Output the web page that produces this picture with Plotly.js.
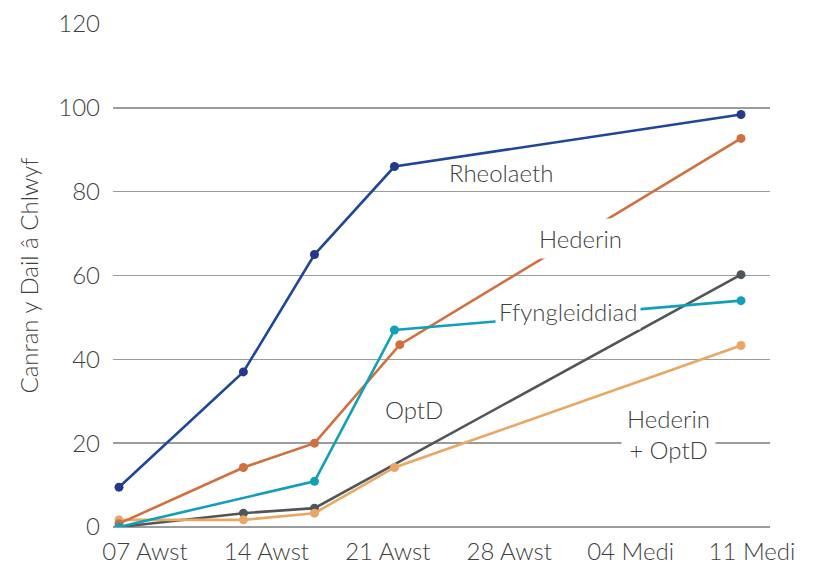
<!DOCTYPE html>
<html>
<head>
<meta charset="utf-8">
<script src="https://cdn.plot.ly/plotly-3.0.1.min.js"></script>
<style>html,body{margin:0;padding:0;background:#fff;}#chart{width:814px;height:566px;}</style>
</head>
<body>
<div id="chart"></div>
<script>
// Days after 07 Awst
const tickDays = [0, 7, 14, 21, 28, 35];
const tickLabels = ['07 Awst', '14 Awst', '21 Awst', '28 Awst', '04 Medi', '11 Medi'];

const rheolaethX = [0, 7, 11, 15.5, 35];
const rheolaethY = [9.5, 37.0, 65.0, 86.0, 98.4];

const hederinX = [0, 7, 11, 15.8, 35];
const hederinY = [0.8, 14.2, 20.0, 43.5, 92.7];

const ffynX = [0, 11, 15.5, 35];
const ffynY = [0, 10.9, 47.0, 54.0];

const optdX = [0, 7, 11, 35];
const optdY = [0, 3.3, 4.5, 60.2];

const hedOptX = [0, 7, 11, 15.5, 35];
const hedOptY = [1.7, 1.7, 3.3, 14.2, 43.3];

const yTitle = 'Canran y Dail â Chlwyf';

const FONT = 'Lato, "Open Sans", sans-serif';
const TXT = '#3f3f3f';
const GRID = '#9c9c9c';
const FS = 24;

function series(x, y, color, mcolor) {
  return {
    x: x, y: y, type: 'scatter', mode: 'lines+markers',
    line: {color: color, width: 2.6},
    marker: {color: mcolor || color, size: 9},
    showlegend: false, hoverinfo: 'x+y'
  };
}

const data = [
  series(optdX, optdY, '#50555a'),
  series(hedOptX, hedOptY, '#e9a764'),
  series(hederinX, hederinY, '#d0703f'),
  series(ffynX, ffynY, '#129fb8'),
  series(rheolaethX, rheolaethY, '#1f4796', '#24398a'),
  {x: [], y: [], xaxis: 'x2', type: 'scatter', showlegend: false, hoverinfo: 'skip'}
];

function label(text, x, y, bg, pad) {
  return {
    text: text, x: x, y: y, xref: 'x', yref: 'y', showarrow: false,
    font: {family: FONT, size: FS, color: TXT, weight: 300},
    bgcolor: bg ? '#ffffff' : 'rgba(0,0,0,0)', borderpad: pad || 1,
    xanchor: 'center', yanchor: 'middle'
  };
}

// positions of labels, in data units
const pxDay = 622 / 35;
function dx(px) { return (px - 119) / pxDay; }
function dy(py) { return (527 - py) / (503 / 120); }

const layout = {
  width: 814, height: 566,
  margin: {l: 113, r: 44, t: 24, b: 39},
  paper_bgcolor: '#ffffff', plot_bgcolor: '#ffffff',
  font: {family: FONT, color: TXT, size: FS, weight: 300},
  xaxis: {
    range: [-6 / pxDay, 35 + 29 / pxDay],
    showticklabels: false, showgrid: false, zeroline: false, showline: false,
    ticks: '', fixedrange: true
  },
  xaxis2: {
    overlaying: 'x', anchor: 'y', side: 'bottom',
    range: [-1.845, 36.038],
    tickmode: 'array', tickvals: tickDays, ticktext: tickLabels,
    showgrid: false, zeroline: false, showline: false, ticks: '',
    tickfont: {family: FONT, size: FS, color: TXT, weight: 300},
    ticklabelstandoff: 8
  },
  yaxis: {
    range: [0, 120], tickmode: 'array', tickvals: [0, 20, 40, 60, 80, 100, 120],
    showgrid: true, gridcolor: GRID, gridwidth: 1.6,
    zeroline: true, zerolinecolor: GRID, zerolinewidth: 1.6,
    showline: false, ticks: '',
    tickfont: {family: FONT, size: FS, color: TXT, weight: 300},
    ticklabelstandoff: 12,
    title: {text: yTitle, font: {family: FONT, size: FS, color: TXT, weight: 300}, standoff: 12}
  },
  annotations: [
    label('Rheolaeth', dx(501), dy(172), false),
    label('Hederin', dx(580), dy(238), true, 5),
    label('Ffyngleiddiad', dx(568), dy(311), true, 3),
    label('OptD', dx(414), dy(409), false),
    label('Hederin<br>+ OptD', dx(668), dy(434), true, 5)
  ]
};

Plotly.newPlot('chart', data, layout, {displayModeBar: false, staticPlot: true});
</script>
</body>
</html>
